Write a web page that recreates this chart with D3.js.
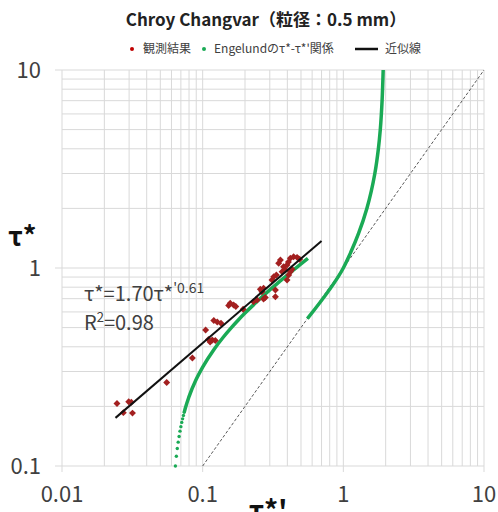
<html>
<head>
    <meta charset="utf-8">
    <script src="https://d3js.org/d3.v7.min.js"></script>
    <style>
        body { margin: 0; background: #fff; }
        text { font-family: "Noto Sans CJK JP", "Noto Sans", sans-serif; }
    </style>
</head>
<body>
    <svg id="chart" width="498" height="512"></svg>
    <script>
        // observed points: tau*' (x), tau* (y)
        const obsX = [0.0246, 0.0298, 0.0311, 0.0317, 0.0273, 0.0555, 0.0845, 0.105, 0.110, 0.117, 0.123, 0.113,
            0.120, 0.127, 0.135, 0.157, 0.166, 0.172, 0.153, 0.194, 0.230, 0.244, 0.257, 0.264, 0.271, 0.271,
            0.279, 0.329, 0.329, 0.311, 0.320, 0.334, 0.347, 0.367, 0.387, 0.376, 0.398, 0.398, 0.420, 0.443,
            0.469, 0.489, 0.432, 0.420, 0.407, 0.357, 0.409];
        const obsY = [0.207, 0.211, 0.210, 0.185, 0.186, 0.264, 0.351, 0.486, 0.436, 0.433, 0.430, 0.423,
            0.543, 0.534, 0.526, 0.664, 0.650, 0.639, 0.647, 0.619, 0.676, 0.689, 0.781, 0.759, 0.790, 0.697,
            0.710, 0.774, 0.716, 0.870, 0.904, 0.922, 1.056, 0.958, 0.977, 1.015, 1.036, 0.870, 1.119, 1.140,
            1.132, 1.106, 0.985, 0.958, 1.072, 1.098, 0.922];

        // Engelund relation, sparse dots at the bottom of the lower branch
        const engDotX = [0.064, 0.065, 0.066, 0.067, 0.068, 0.069, 0.070, 0.071, 0.072, 0.073, 0.074];
        const engDotY = [0.100, 0.112, 0.1225, 0.132, 0.141, 0.150, 0.158, 0.166, 0.173, 0.180, 0.187];
        // lower branch (dense part)
        const engLowX = [0.074, 0.075, 0.08, 0.09, 0.10, 0.12, 0.14, 0.16, 0.18, 0.20, 0.25, 0.30, 0.35, 0.40, 0.45, 0.50, 0.56];
        const engLowY = [0.187, 0.194, 0.224, 0.274, 0.316, 0.387, 0.447, 0.500, 0.548, 0.592, 0.689, 0.775, 0.851, 0.922, 0.987, 1.049, 1.118];
        // upper branch
        const engHighX = [0.555, 1.0, 1.129, 1.285, 1.470, 1.675, 1.775, 1.831, 1.886, 1.920];
        const engHighY = [0.555, 1.0, 1.2, 1.5, 2.0, 3.0, 4.0, 5.0, 7.0, 10.0];

        // fitted line tau* = 1.70 tau*'^0.61
        const fitX = [0.024, 0.70];
        const fitY = [0.175, 1.37];

        // 1:1 line
        const refX = [0.1, 10];
        const refY = [0.1, 10];

        const xTicks = [0.01, 0.1, 1, 10];
        const xTickLabels = ["0.01", "0.1", "1", "10"];
        const yTicks = [0.1, 1, 10];
        const yTickLabels = ["0.1", "1", "10"];

        const svg = d3.select("#chart");
        const plot = { left: 62, right: 484, top: 70, bottom: 466 };

        const xScale = d3.scaleLog().domain([0.01, 10]).range([plot.left, plot.right]);
        const yScale = d3.scaleLog().domain([0.1, 10]).range([plot.bottom, plot.top]);

        // gridlines
        const grid = svg.append("g").attr("class", "grid");
        xScale.ticks().forEach(t => {
            const major = xTicks.some(m => Math.abs(m - t) / m < 1e-6);
            grid.append("line")
                .attr("x1", xScale(t)).attr("x2", xScale(t))
                .attr("y1", plot.top).attr("y2", plot.bottom + (major ? 6 : 0))
                .attr("stroke", "#d9d9d9").attr("stroke-width", 1);
        });
        yScale.ticks().forEach(t => {
            const major = yTicks.some(m => Math.abs(m - t) / m < 1e-6);
            grid.append("line")
                .attr("x1", plot.left - (major ? 7 : 0)).attr("x2", plot.right)
                .attr("y1", yScale(t)).attr("y2", yScale(t))
                .attr("stroke", "#d9d9d9").attr("stroke-width", 1);
        });

        // tick labels
        xTicks.forEach((t, i) => {
            svg.append("text")
                .attr("x", xScale(t)).attr("y", 502)
                .attr("text-anchor", "middle")
                .attr("font-size", 22).attr("fill", "#404040")
                .text(xTickLabels[i]);
        });
        yTicks.forEach((t, i) => {
            svg.append("text")
                .attr("x", 41).attr("y", yScale(t) + 8)
                .attr("text-anchor", "end")
                .attr("font-size", 22).attr("fill", "#404040")
                .text(yTickLabels[i]);
        });

        const line = d3.line().x(d => xScale(d[0])).y(d => yScale(d[1]));

        // 1:1 dashed line
        svg.append("path")
            .datum(refX.map((x, i) => [x, refY[i]]))
            .attr("d", line)
            .attr("fill", "none").attr("stroke", "#595959")
            .attr("stroke-width", 1).attr("stroke-dasharray", "3,2");

        // Engelund curve
        const green = "#1aaa55";
        svg.append("path")
            .datum(engLowX.map((x, i) => [x, engLowY[i]]))
            .attr("d", line.curve(d3.curveMonotoneX))
            .attr("fill", "none").attr("stroke", green).attr("stroke-width", 3.5);
        svg.append("path")
            .datum(engHighX.map((x, i) => [x, engHighY[i]]))
            .attr("d", line.curve(d3.curveMonotoneY))
            .attr("fill", "none").attr("stroke", green).attr("stroke-width", 3.5);
        engDotX.forEach((x, i) => {
            svg.append("circle")
                .attr("cx", xScale(x)).attr("cy", yScale(engDotY[i]))
                .attr("r", 1.7).attr("fill", green);
        });

        // observed points (small squares turned 45 degrees)
        const marker = d3.symbol().type(d3.symbolSquare).size(24);
        obsX.forEach((x, i) => {
            svg.append("path")
                .attr("d", marker)
                .attr("transform", "translate(" + xScale(x) + "," + yScale(obsY[i]) + ") rotate(45)")
                .attr("fill", "#a32020");
        });

        // fitted line
        svg.append("path")
            .datum(fitX.map((x, i) => [x, fitY[i]]))
            .attr("d", line.curve(d3.curveLinear))
            .attr("fill", "none").attr("stroke", "#111").attr("stroke-width", 2);

        // equation
        const eq = svg.append("text").attr("x", 84).attr("y", 301)
            .attr("font-size", 20).attr("fill", "#404040");
        eq.append("tspan").text("τ*=1.70τ*");
        eq.append("tspan").attr("dy", -8).attr("font-size", 14).text("'0.61");
        const r2 = svg.append("text").attr("x", 84).attr("y", 330)
            .attr("font-size", 20).attr("fill", "#404040");
        r2.append("tspan").text("R");
        r2.append("tspan").attr("dy", -8).attr("font-size", 13).text("2");
        r2.append("tspan").attr("dy", 8).text("=0.98");

        // title
        svg.append("text")
            .attr("x", 266).attr("y", 26)
            .attr("text-anchor", "middle")
            .attr("font-size", 17).attr("font-weight", "bold").attr("fill", "#222")
            .text("Chroy Changvar（粒径：0.5 mm）");

        // legend
        const lg = svg.append("g").attr("font-size", 12).attr("fill", "#404040");
        lg.append("circle").attr("cx", 132).attr("cy", 49).attr("r", 2).attr("fill", "#c00000");
        lg.append("text").attr("x", 143).attr("y", 53).text("観測結果");
        lg.append("circle").attr("cx", 204).attr("cy", 49).attr("r", 2).attr("fill", green);
        lg.append("text").attr("x", 214).attr("y", 53).text("Engelundのτ*-τ*'関係");
        lg.append("line").attr("x1", 355).attr("x2", 378).attr("y1", 49).attr("y2", 49)
            .attr("stroke", "#111").attr("stroke-width", 2.5);
        lg.append("text").attr("x", 385).attr("y", 53).text("近似線");

        // axis titles
        svg.append("text")
            .attr("x", 8).attr("y", 246)
            .attr("font-size", 27).attr("font-weight", "bold").attr("fill", "#111")
            .text("τ*");
        svg.append("text")
            .attr("x", 268).attr("y", 521)
            .attr("text-anchor", "middle")
            .attr("font-size", 28).attr("font-weight", "bold").attr("fill", "#111")
            .text("τ*'");
    </script>
</body>
</html>
